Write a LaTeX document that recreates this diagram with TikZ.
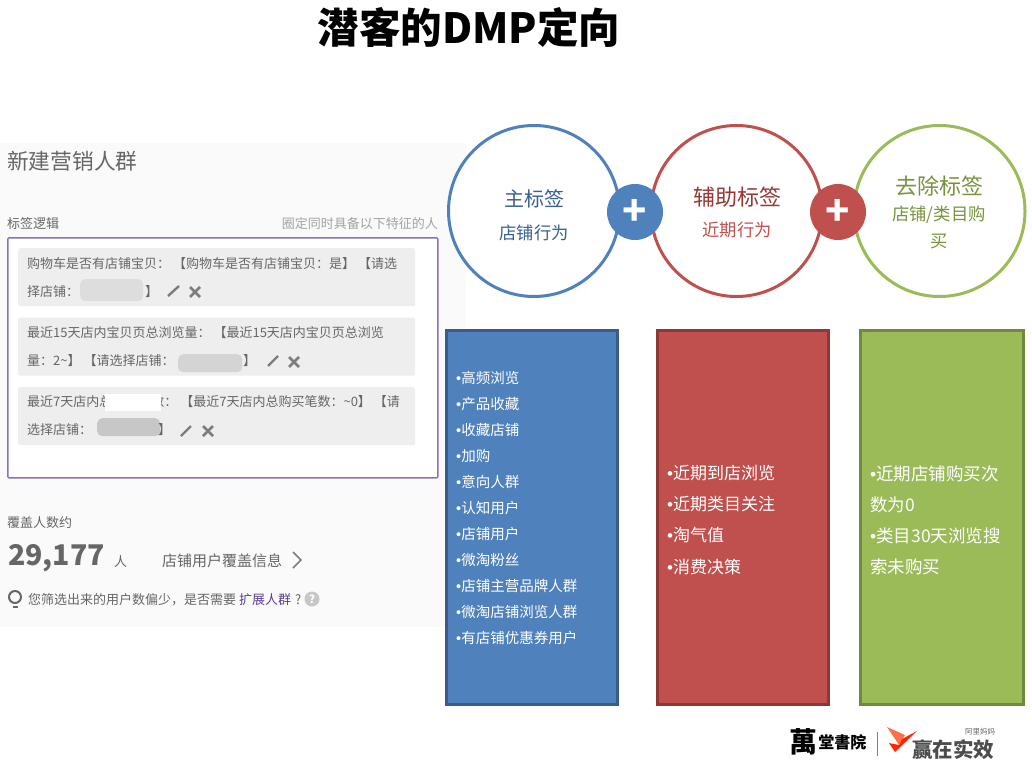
\documentclass[tikz,border=0pt]{standalone}
\usepackage{fontspec}
\setmainfont{Noto Sans CJK SC}
\newfontfamily\dotfont{Liberation Sans}
\newcommand{\itemdot}{{\dotfont •}}
\definecolor{panelbg}{HTML}{FAFAFA}
\definecolor{rowbg}{HTML}{EEEEEE}
\definecolor{uitext}{HTML}{666666}
\definecolor{uiframe}{HTML}{8A70BC}
\definecolor{uilink}{HTML}{5B3E96}
\definecolor{blurgray}{HTML}{D4D4D4}
\definecolor{bluefill}{HTML}{4F81BD}
\definecolor{blueline}{HTML}{385D8A}
\definecolor{bluetext}{HTML}{376092}
\definecolor{redfill}{HTML}{C0504D}
\definecolor{redline}{HTML}{8C3836}
\definecolor{redtext}{HTML}{953735}
\definecolor{greenfill}{HTML}{9BBB59}
\definecolor{greenline}{HTML}{71893F}
\definecolor{greentext}{HTML}{77933C}
\begin{document}
\begin{tikzpicture}[x=1pt,y=-1pt]

        \tikzstyle{ringnode} = [draw, circle, fill=white, line width=3pt, minimum size=171pt, inner sep=0];
        \tikzstyle{plusnode} = [circle, minimum size=56pt, inner sep=0, text=white, font=\fontsize{40}{40}\selectfont\bfseries];
        \tikzstyle{listbox} = [draw, line width=3pt, anchor=north west, inner sep=0];
        \tikzstyle{rowbox} = [fill=rowbg, rounded corners=2pt, anchor=north west, inner sep=0, minimum width=397pt, minimum height=58pt];
        \tikzstyle{uinode} = [anchor=west, inner sep=0, yshift=-1pt, text=uitext, font=\fontsize{13}{13}\selectfont];
        \tikzstyle{blurbox} = [fill=blurgray, rounded corners=5pt, anchor=north west, inner sep=0];
        \tikzstyle{whiteitem} = [anchor=west, inner sep=0, text=white];
        \tikzstyle{icon} = [line width=2.4pt, color=uitext!85];

        \useasboundingbox (0,0) rectangle (1032,773);

        \node[anchor=center, inner sep=0, font=\fontsize{41.5}{41.5}\selectfont\bfseries] (TITLE) at (469,27) {潜客的DMP定向};

        % left screenshot
        \node[fill=panelbg, anchor=north west, inner sep=0, minimum width=466pt, minimum height=484pt] (PANEL) at (0,143) {};
        \node[uinode, font=\fontsize{21.7}{21.7}\selectfont] (HEAD) at (7,160) {新建营销人群};
        \node[uinode] (LOGIC) at (7,223) {标签逻辑};
        \node[uinode, anchor=east, text=uitext!60] (RULE) at (438,223) {圈定同时具备以下特征的人};
        \node[draw=uiframe, line width=1.3pt, fill=white, rounded corners=1pt, anchor=north west, inner sep=0, minimum width=430pt, minimum height=240pt] (FRAME) at (7.2,237.2) {};

        \node[rowbox] (R1) at (18,248) {};
        \node[rowbox] (R2) at (18,317.5) {};
        \node[rowbox] (R3) at (18,387) {};

        \node[uinode] (R1A) at (27,263) {购物车是否有店铺宝贝： 【购物车是否有店铺宝贝：是】 【请选};
        \node[uinode] (R1B) at (27,291) {择店铺：};
        \node[blurbox, fill=blurgray!80, minimum width=63pt, minimum height=22pt] (B1) at (80,279) {};
        \node[uinode] (R1C) at (145,291) {】};
        \node[uinode] (R2A) at (27,332) {最近15天店内宝贝页总浏览量： 【最近15天店内宝贝页总浏览};
        \node[uinode] (R2B) at (27,360) {量：2\textasciitilde】 【请选择店铺：};
        \node[blurbox, minimum width=64pt, minimum height=18pt] (B2) at (178,354) {};
        \node[uinode] (R2C) at (243,360) {】};
        \node[uinode] (R3A) at (27,401) {最近7天店内总购买笔数： 【最近7天店内总购买笔数：\textasciitilde0】 【请};
        \node[fill=white, anchor=north west, inner sep=0, minimum width=56pt, minimum height=17pt] (W3) at (105,394) {};
        \node[uinode] (R3B) at (27,429) {选择店铺：};
        \node[blurbox, fill=black!22, minimum width=63pt, minimum height=18pt] (B3) at (97,418) {};
        \node[uinode] (R3C) at (158,429) {】};

        \draw[icon] (168,296) -- (179,286);
        \draw[icon, line width=2.8pt] (190,287) -- (200,297);
        \draw[icon, line width=2.8pt] (200,287) -- (190,297);
        \draw[icon] (268,366) -- (278,356);
        \draw[icon, line width=2.8pt] (289,357) -- (299,367);
        \draw[icon, line width=2.8pt] (299,357) -- (289,367);
        \draw[icon] (181,436) -- (191,426);
        \draw[icon, line width=2.8pt] (203,426) -- (213,436);
        \draw[icon, line width=2.8pt] (213,426) -- (203,436);

        \node[uinode] (COVER) at (7,522) {覆盖人数约};
        \node[uinode, font=\fontsize{28.5}{28.5}\selectfont\bfseries] (COUNT) at (8,557) {29,177};
        \node[uinode] (UNIT) at (114,561) {人};
        \node[uinode, font=\fontsize{15}{15}\selectfont] (INFO) at (162,560) {店铺用户覆盖信息};
        \draw[icon, line width=1.5pt] (293,552) -- (301,560) -- (293,568);

        \draw[line width=2pt, color=uitext] (15,597) circle (6pt);
        \draw[line width=2pt, color=uitext] (12.5,606.5) -- (17.5,606.5);
        \node[uinode] (TIP) at (28,599) {您筛选出来的用户数偏少，是否需要};
        \node[uinode, text=uilink] (LINK) at (239,599) {扩展人群};
        \node[uinode] (ASK) at (295,599) {?};
        \node[circle, fill=black!22, minimum size=15pt, inner sep=0, text=white, font=\fontsize{11}{11}\selectfont\bfseries] (HELP) at (312,599) {?};

        % three rings
        \node[ringnode, draw=bluefill] (MAIN) at (534,211) {};
        \node[ringnode, draw=redfill] (AUX) at (736.5,211) {};
        \node[ringnode, draw=greenfill] (DROP) at (939.5,211) {};
        \node[plusnode, fill=bluefill] (P1) at (635,212) {+};
        \node[plusnode, fill=redfill] (P2) at (838,212) {+};

        \node[inner sep=0, text=bluetext, font=\fontsize{20}{20}\selectfont] (MAINA) at (534,199) {主标签};
        \node[inner sep=0, text=bluetext, font=\fontsize{17.3}{17.3}\selectfont] (MAINB) at ([yshift=-34pt]MAINA) {店铺行为};
        \node[inner sep=0, text=redtext, font=\fontsize{22}{22}\selectfont] (AUXA) at (737,197) {辅助标签};
        \node[inner sep=0, text=redfill, font=\fontsize{17.3}{17.3}\selectfont] (AUXB) at ([yshift=-33pt]AUXA) {近期行为};
        \node[inner sep=0, text=greentext, font=\fontsize{22}{22}\selectfont] (DROPA) at (939,186) {去除标签};
        \node[inner sep=0, text=greentext, font=\fontsize{17.3}{17.3}\selectfont] (DROPB) at ([yshift=-29pt]DROPA) {店铺/类目购};
        \node[inner sep=0, text=greentext, font=\fontsize{17.3}{17.3}\selectfont] (DROPC) at ([yshift=-26pt]DROPB) {买};

        % three lists
        \node[listbox, draw=blueline, fill=bluefill, minimum width=171pt, minimum height=373.5pt] (BLUE) at (445,329) {};
        \node[listbox, draw=redline, fill=redfill, minimum width=171pt, minimum height=373.5pt] (RED) at (656,329) {};
        \node[listbox, draw=greenline, fill=greenfill, minimum width=163pt, minimum height=373.5pt] (GREEN) at (859,329) {};

        \tikzstyle{blueitem} = [whiteitem, font=\fontsize{14.5}{14.5}\selectfont];
        \node[blueitem] (U1) at (456,378) {\itemdot 高频浏览};
        \node[blueitem] (U2) at ([yshift=-26pt]U1.west) {\itemdot 产品收藏};
        \node[blueitem] (U3) at ([yshift=-26pt]U2.west) {\itemdot 收藏店铺};
        \node[blueitem] (U4) at ([yshift=-26pt]U3.west) {\itemdot 加购};
        \node[blueitem] (U5) at ([yshift=-26pt]U4.west) {\itemdot 意向人群};
        \node[blueitem] (U6) at ([yshift=-26pt]U5.west) {\itemdot 认知用户};
        \node[blueitem] (U7) at ([yshift=-26pt]U6.west) {\itemdot 店铺用户};
        \node[blueitem] (U8) at ([yshift=-26pt]U7.west) {\itemdot 微淘粉丝};
        \node[blueitem] (U9) at ([yshift=-26pt]U8.west) {\itemdot 店铺主营品牌人群};
        \node[blueitem] (U10) at ([yshift=-26pt]U9.west) {\itemdot 微淘店铺浏览人群};
        \node[blueitem] (U11) at ([yshift=-26pt]U10.west) {\itemdot 有店铺优惠券用户};

        \tikzstyle{reditem} = [whiteitem, font=\fontsize{17}{17}\selectfont];
        \node[reditem] (V1) at (667,473) {\itemdot 近期到店浏览};
        \node[reditem] (V2) at ([yshift=-31.5pt]V1.west) {\itemdot 近期类目关注};
        \node[reditem] (V3) at ([yshift=-31pt]V2.west) {\itemdot 淘气值};
        \node[reditem] (V4) at ([yshift=-31.5pt]V3.west) {\itemdot 消费决策};

        \tikzstyle{greenitem} = [whiteitem, font=\fontsize{17.5}{17.5}\selectfont];
        \node[greenitem] (W1) at (870,474) {\itemdot 近期店铺购买次};
        \node[greenitem] (W2) at ([yshift=-31pt]W1.west) {数为0};
        \node[greenitem] (W4) at ([yshift=-31pt]W2.west) {\itemdot 类目30天浏览搜};
        \node[greenitem] (W5) at ([yshift=-31pt]W4.west) {索未购买};

        % logo
        \node[inner sep=0, font=\fontsize{28}{28}\selectfont\bfseries] (LOGOA) at (803,742) {萬};
        \node[inner sep=0, font=\fontsize{16}{16}\selectfont\bfseries, anchor=west] (LOGOB) at ([xshift=1pt]LOGOA.east) {堂書院};
        \draw[line width=1pt, color=black!50] (877,732) -- (877,756);
        \fill[color=orange!40!red!70] (887,727) -- (905,735) -- (899,745) -- cycle;
        \fill[color=orange!30!red] (902,739) -- (917,731) -- (895,752) -- (889,743) -- (899,745) -- cycle;
        \node[inner sep=0, text=black!70, font=\fontsize{20.5}{20.5}\selectfont\bfseries] (LOGOC) at (953,750) {赢在实效};
        \node[inner sep=0, text=black!60, font=\fontsize{7.5}{7.5}\selectfont] (LOGOD) at (980,732) {阿里妈妈};

    \end{tikzpicture}
\end{document}
